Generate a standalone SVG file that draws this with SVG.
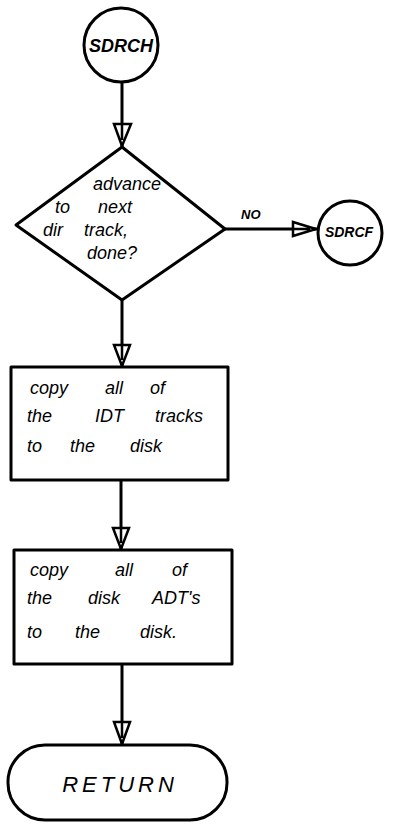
<svg xmlns="http://www.w3.org/2000/svg" width="393" height="826" viewBox="0 0 393 826">
<style>
.s{fill:none;stroke:#000;stroke-width:3;stroke-linejoin:round}
.w{fill:#fff;stroke:#000;stroke-width:3;stroke-linejoin:round}
.t{font-family:"Liberation Sans",Arial,sans-serif;font-style:italic;font-size:18px;fill:#000}
.c{text-anchor:middle}
.a{fill:#fff;stroke:#000;stroke-width:2.5;stroke-linejoin:miter}
</style>
<rect width="393" height="826" fill="#fff"/>
<g id="connectors">
<line class="s" x1="122" y1="83" x2="122" y2="147"/>
<path class="a" d="M114,124 L131,124 L122,146 Z M122,124 L122,140"/>
<line class="s" x1="122" y1="300" x2="122" y2="367"/>
<path class="a" d="M114,345 L130,345 L122,366 Z M122,345 L122,360"/>
<line class="s" x1="121" y1="480" x2="121" y2="550"/>
<path class="a" d="M113,528 L129,528 L121,549 Z M121,528 L121,543"/>
<line class="s" x1="122" y1="664" x2="122" y2="745"/>
<path class="a" d="M114,722 L130,722 L122,744 Z M122,722 L122,738"/>
<line class="s" x1="225" y1="229" x2="318" y2="229"/>
<path class="a" d="M293,222 L293,236 L316,229 Z M293,229 L310,229"/>
<text class="t" x="241" y="219" style="font-size:13px;font-weight:bold">NO</text>
</g>
<g id="sdrch">
<circle class="w" cx="121" cy="45" r="37"/>
<text class="t c" x="121" y="52" style="font-size:18px;font-weight:bold">SDRCH</text>
</g>
<g id="decision">
<path class="w" d="M122,147 L225,229 L122,300 L16,225 Z"/>
<text class="t c" x="127" y="190">advance</text>
<text class="t" y="213"><tspan x="55">to</tspan><tspan x="98">next</tspan></text>
<text class="t" y="236"><tspan x="43">dir</tspan><tspan x="84">track,</tspan></text>
<text class="t" x="87" y="259">done?</text>
</g>
<g id="sdrcf">
<circle class="w" cx="350" cy="233" r="32"/>
<text class="t c" x="349" y="237" style="font-size:14px;font-weight:bold">SDRCF</text>
</g>
<g id="box1">
<rect class="w" x="11" y="367" width="217" height="113"/>
<text class="t" y="394"><tspan x="30">copy</tspan><tspan x="105">all</tspan><tspan x="150">of</tspan></text>
<text class="t" y="422"><tspan x="27">the</tspan><tspan x="95">IDT</tspan><tspan x="155">tracks</tspan></text>
<text class="t" y="452"><tspan x="27">to</tspan><tspan x="70">the</tspan><tspan x="130">disk</tspan></text>
</g>
<g id="box2">
<rect class="w" x="14" y="550" width="218" height="114"/>
<text class="t" y="576"><tspan x="30">copy</tspan><tspan x="115">all</tspan><tspan x="172">of</tspan></text>
<text class="t" y="604"><tspan x="27">the</tspan><tspan x="88">disk</tspan><tspan x="152">ADT's</tspan></text>
<text class="t" y="638"><tspan x="27">to</tspan><tspan x="75">the</tspan><tspan x="140">disk.</tspan></text>
</g>
<g id="return">
<rect class="w" x="8" y="745" width="219" height="75" rx="37" ry="37"/>
<text class="t c" x="120" y="792" style="font-size:22px;letter-spacing:4px">RETURN</text>
</g>
</svg>
